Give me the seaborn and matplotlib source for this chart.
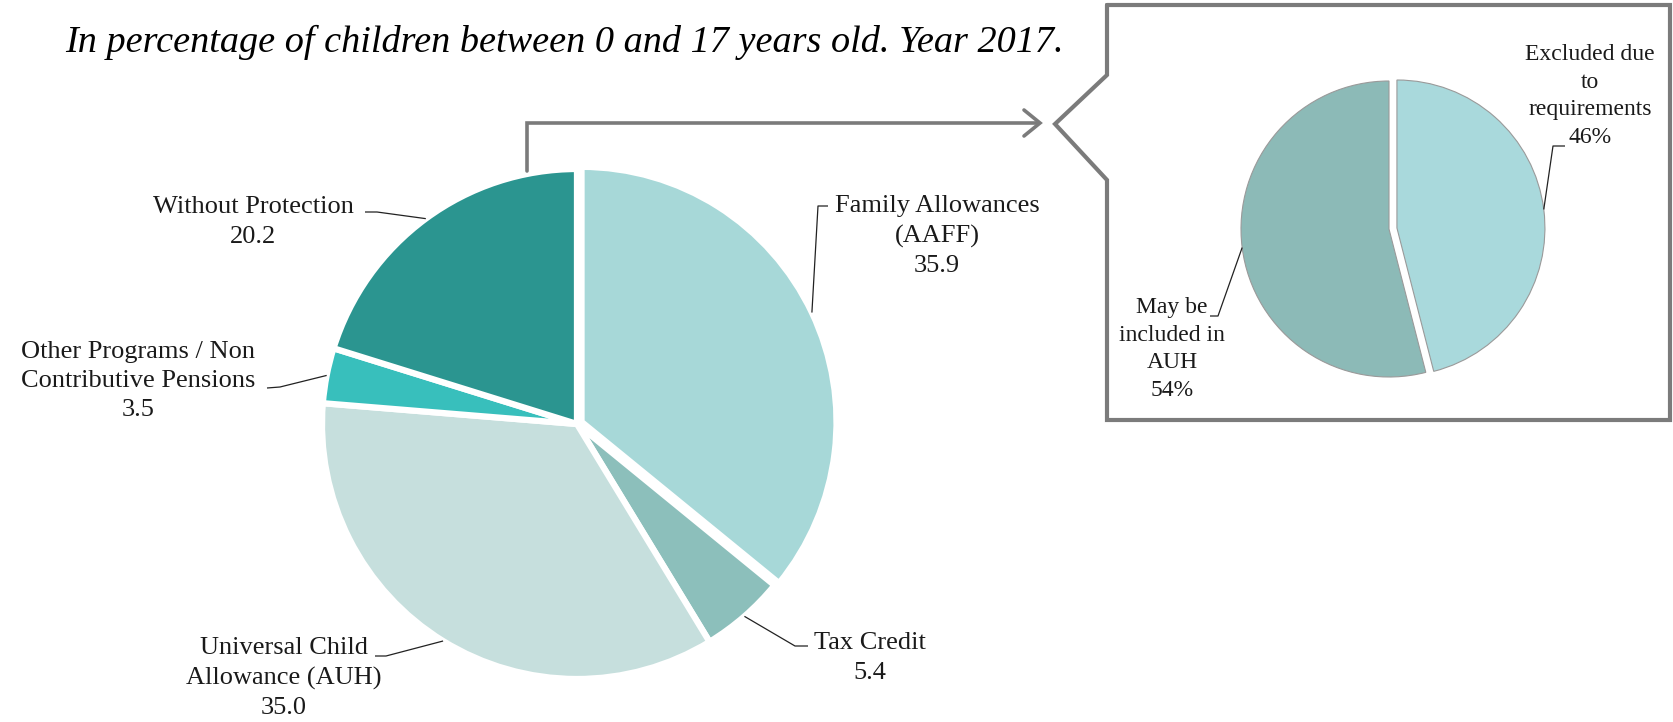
import numpy as np
import matplotlib
matplotlib.use("Agg")
import matplotlib.pyplot as plt
import seaborn as sns

# --- data -------------------------------------------------------------
main_labels = [
    "Family Allowances\n(AAFF)",
    "Tax Credit",
    "Universal Child\nAllowance (AUH)",
    "Other Programs / Non\nContributive Pensions",
    "Without Protection",
]
main_values = [35.9, 5.4, 35.0, 3.5, 20.2]

inset_labels = ["Excluded due\nto\nrequirements", "May be\nincluded in\nAUH"]
inset_values = [46, 54]

title_text = "In percentage of children between 0 and 17 years old. Year 2017."

# --- style ------------------------------------------------------------
sns.set_theme(style="white")
plt.rcParams["font.family"] = ["Liberation Serif", "DejaVu Serif"]

main_colors = sns.color_palette(["#a7d8d8", "#8cbfbb", "#c6dfdd", "#38bfbc", "#2b9590"])
inset_colors = sns.color_palette(["#a9d9dc", "#8cbab7"])

W, H = 1674, 722
fig = plt.figure(figsize=(W / 100, H / 100), dpi=100)
ax = fig.add_axes([0, 0, 1, 1])


def px(x, y):
    """Pixel position measured from the top-left corner -> data coords."""
    return x, H - y


FRAME = "#7b7b7b"
TEXT = "#1a1a1a"
LEADER = "#222222"

# --- main pie -----------------------------------------------------------
main_center = px(577, 424)
main_r = 255
wedges, _ = ax.pie(
    main_values,
    colors=main_colors,
    startangle=90,
    counterclock=False,
    radius=main_r,
    center=main_center,
    explode=[5, 0, 0, 0, 0],          # offsets in pixels
    frame=True,
    wedgeprops=dict(edgecolor="white", linewidth=4.5),
)


def edge_point(w):
    mid = np.deg2rad((w.theta1 + w.theta2) / 2)
    cx, cy = w.center
    return cx + w.r * np.cos(mid), cy + w.r * np.sin(mid)


# label block centres and leader elbows (pixels, top-left origin)
main_text_pos = [(937, 236), (870, 658), (284, 678), (138, 381), (253, 222)]
main_elbows = [
    [(828, 206), (818, 206)],
    [(808, 646), (795, 646)],
    [(375, 656), (386, 656)],
    [(267, 388), (280, 387)],
    [(365, 212), (377, 212)],
]

for w, lab, val, tpos, elbow in zip(wedges, main_labels, main_values,
                                    main_text_pos, main_elbows):
    ax.text(*px(*tpos), f"{lab}\n{val:.1f}", ha="center", va="center",
            fontsize=19, color=TEXT, linespacing=1.44)
    pts = [px(*p) for p in elbow] + [edge_point(w)]
    xs, ys = zip(*pts)
    ax.plot(xs, ys, color=LEADER, lw=0.9, solid_capstyle="butt")

# --- inset pie ----------------------------------------------------------
inset_center = px(1389, 229)
inset_r = 148
iwedges, _ = ax.pie(
    inset_values,
    colors=inset_colors,
    startangle=90,
    counterclock=False,
    radius=inset_r,
    center=inset_center,
    explode=[8, 0],
    frame=True,
    wedgeprops=dict(edgecolor="#9a9a9a", linewidth=0.8),
)

inset_text_pos = [(1590, 96), (1172, 349)]
inset_elbows = [
    [(1565, 146), (1553, 146)],
    [(1210, 316), (1218, 316)],
]
for w, lab, val, tpos, elbow in zip(iwedges, inset_labels, inset_values,
                                    inset_text_pos, inset_elbows):
    ax.text(*px(*tpos), f"{lab}\n{val}%", ha="center", va="center",
            fontsize=17, color=TEXT, linespacing=1.41)
    pts = [px(*p) for p in elbow] + [edge_point(w)]
    xs, ys = zip(*pts)
    ax.plot(xs, ys, color=LEADER, lw=0.9, solid_capstyle="butt")

# --- callout box with pointer -----------------------------------------
box = [(1107, 5), (1670, 5), (1670, 420), (1107, 420), (1107, 180),
       (1055, 124), (1107, 75), (1107, 5)]
bx, by = zip(*[px(*p) for p in box])
ax.plot(bx, by, color=FRAME, lw=3, solid_joinstyle="miter")

# connector from the unprotected slice to the callout
conn = [(527, 171), (527, 123), (1038, 123)]
cx_, cy_ = zip(*[px(*p) for p in conn])
ax.plot(cx_, cy_, color=FRAME, lw=2.6, solid_joinstyle="miter")
head = [(1024, 110), (1040, 123), (1024, 136)]
hx, hy = zip(*[px(*p) for p in head])
ax.plot(hx, hy, color=FRAME, lw=2.6, solid_joinstyle="miter")

# --- title ------------------------------------------------------------
ax.text(*px(65, 52), title_text, ha="left", va="baseline", fontsize=27.5,
        style="italic", color="black")

ax.set_xlim(0, W)
ax.set_ylim(0, H)
ax.set_aspect("auto")
ax.axis("off")

fig.savefig("out.png", dpi=100, facecolor="white")
